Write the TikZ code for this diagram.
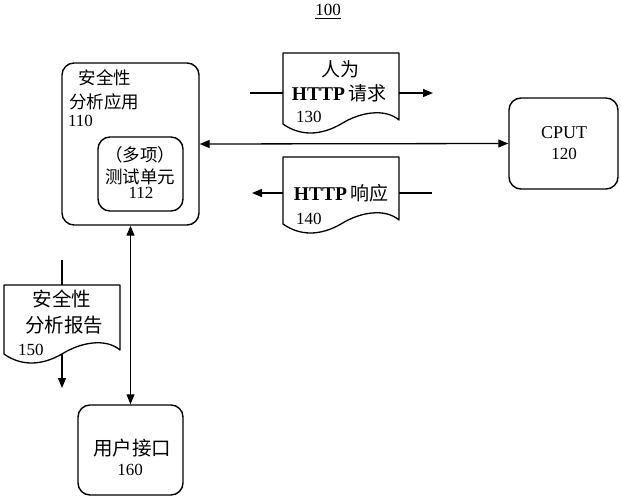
\documentclass[tikz,border=0pt]{standalone}
\usepackage{fontspec}
\setmainfont{Liberation Serif}
\newfontfamily\cjk{Noto Sans CJK SC}
\usetikzlibrary{arrows.meta,calc}
\newcommand\fs[1]{\fontsize{#1}{#1}\selectfont}
% document shape: #1 left x, #2 top y, #3 bottom-left y
\newcommand\mydoc[3]{%
  \draw[docline] (#1,#2) -- ({#1+116},#2) -- ({#1+116},{#3-4})
    .. controls ({#1+102},{#3-16}) and ({#1+77},{#3-12}) .. ({#1+58},#3)
    .. controls ({#1+37},{#3+12}) and ({#1+17},{#3+12}) .. (#1,#3) -- cycle;}
\begin{document}
\begin{tikzpicture}[x=1pt,y=-1pt,
  box/.style={draw, rounded corners=12pt, line width=1.4pt, inner sep=0pt},
  docline/.style={line width=1.3pt, line join=round},
  conn/.style={line width=1.3pt},
  arr/.style={line width=1.3pt, -{Triangle[length=10pt,width=8pt]}},
  darr/.style={line width=1.3pt, {Triangle[length=10pt,width=8pt]}-{Triangle[length=10pt,width=8pt]}},
  anchorbox/.style={inner sep=0pt, outer sep=0pt},
  txt/.style={inner sep=0pt, outer sep=0pt}]
\useasboundingbox (0,0) rectangle (621,500);

% title
\node[txt] (title) at (328,10) {\fs{17}100};
\draw[line width=1.5pt] ($(title.south west)+(0,3)$) coordinate (ul1) -- ($(title.south east)+(0,3)$) coordinate (ul2);

% box 110
\node[box, minimum width=137pt, minimum height=162pt] (a110) at (130.5,144) {};
\node[txt] (t110a) at (105,78) {\fs{17.5}\cjk 安全性};
\node[txt] (t110b) at (104,102) {\fs{17.5}\cjk 分析应用};
\node[txt, anchor=west] (t110c) at (68,121) {\fs{17}110};
% inner 112
\node[box, minimum width=85pt, minimum height=74pt] (a112) at (140.5,174) {};
\node[txt] (t112a) at (140,155) {\fs{17.5}\cjk （多项）};
\node[txt] (t112b) at (140,177) {\fs{17.5}\cjk 测试单元};
\node[txt] (t112c) at (141,193) {\fs{17}112};

% CPUT 120
\node[box, minimum width=109pt, minimum height=91pt] (cput) at (563.5,143.5) {};
\node[txt] (t120a) at (564,133) {\fs{18}CPUT};
\node[txt] (t120b) at (564,154) {\fs{17}120};

% user interface 160
\node[box, minimum width=105pt, minimum height=90pt] (ui) at (130.5,450) {};
\node[txt] (t160a) at (132,448) {\fs{19.5}\cjk 用户接口};
\node[txt] (t160b) at (130,470) {\fs{17}160};

% doc 130
\mydoc{283}{53}{124}
\node[anchorbox, minimum width=116pt, minimum height=1pt] (d130) at (341,93) {};
\node[txt] (t130a) at (340,69) {\fs{19}\cjk 人为};
\node[txt] (t130b) at (339,93) {\fs{19.5}\textbf{HTTP}\,{\fs{19}\cjk 请求}};
\node[txt, anchor=west] (t130c) at (296,117) {\fs{17}130};
\coordinate (in130) at (250,93);
\coordinate (out130) at (433,93);
\draw[conn] (in130) -- (d130.west);
\draw[arr] (d130.east) -- (out130);

% doc 140
\mydoc{283}{157}{224}
\node[anchorbox, minimum width=116pt, minimum height=1pt] (d140) at (341,193) {};
\node[txt] (t140a) at (341,193) {\fs{19.5}\textbf{HTTP}\,{\fs{19}\cjk 响应}};
\node[txt, anchor=west] (t140b) at (296,219) {\fs{17}140};
\coordinate (in140) at (432,193);
\coordinate (out140) at (252,193);
\draw[conn] (in140) -- (d140.east);
\draw[arr] (d140.west) -- (out140);

% doc 150
\mydoc{4}{285}{354}
\node[anchorbox, minimum width=116pt, minimum height=69pt] (d150) at (62,319.5) {};
\node[txt] (t150a) at (62,299) {\fs{19.5}\cjk 安全性};
\node[txt] (t150b) at (64,325) {\fs{19.5}\cjk 分析报告};
\node[txt, anchor=west] (t150c) at (18,350) {\fs{17}150};
\coordinate (in150) at (62,260);
\coordinate (out150) at (62,388);
\draw[conn] (in150) -- (d150.north);
\draw[arr] (d150.south) -- (out150);

% main connectors
\draw[darr] (a110.east) -- (cput.west);
\draw[darr] (a110.south) -- (ui.north);
\end{tikzpicture}
\end{document}
